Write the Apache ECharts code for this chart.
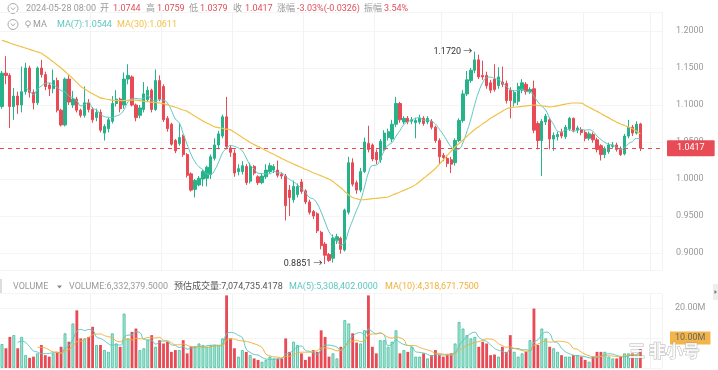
<!DOCTYPE html>
<html><head><meta charset="utf-8">
<script src="https://cdn.jsdelivr.net/npm/echarts@6/dist/echarts.min.js"></script>
<style>html,body{margin:0;padding:0;background:#fff}#c{width:718px;height:370px}</style>
</head><body><div id="c"></div>
<script>
const opens = [
1.098,1.143,1.140,1.098,1.112,1.100,1.118,1.150,1.117,1.103,
1.150,1.141,1.127,1.122,1.133,1.093,1.073,1.135,1.100,1.108,
1.093,1.086,1.103,1.094,1.083,1.090,1.062,1.068,1.078,1.102,
1.108,1.100,1.135,1.138,1.100,1.086,1.094,1.107,1.120,1.094,
1.133,1.125,1.082,1.074,1.052,1.048,1.058,1.033,1.007,0.986,
0.992,1.000,1.001,1.006,1.028,1.046,1.058,1.084,1.042,1.035,
1.010,1.010,1.017,0.997,1.017,1.003,0.995,1.003,1.010,1.012,
1.012,1.006,1.004,0.985,0.972,0.979,0.996,0.984,0.969,0.956,
0.953,0.928,0.912,0.898,0.893,0.917,0.920,0.904,0.955,1.022,
0.995,0.985,1.010,1.048,1.046,1.036,1.026,1.040,1.056,1.054,
1.074,1.102,1.077,1.082,1.078,1.076,1.077,1.082,1.077,1.078,
1.070,1.052,1.032,1.028,1.026,1.022,1.052,1.079,1.115,1.133,
1.147,1.161,1.140,1.140,1.130,1.135,1.126,1.131,1.129,1.120,
1.103,1.105,1.120,1.128,1.118,1.122,1.075,1.052,1.077,1.080,
1.054,1.057,1.063,1.057,1.068,1.082,1.066,1.067,1.063,1.055,
1.060,1.053,1.045,1.033,1.037,1.044,1.046,1.041,1.034,1.058,
1.070,1.062,1.0744];
const closes = [
1.143,1.140,1.098,1.112,1.100,1.118,1.150,1.117,1.103,1.150,
1.141,1.125,1.122,1.133,1.093,1.073,1.135,1.104,1.108,1.093,
1.086,1.103,1.094,1.080,1.090,1.066,1.071,1.080,1.102,1.108,
1.095,1.135,1.140,1.100,1.083,1.096,1.115,1.120,1.094,1.133,
1.108,1.080,1.068,1.047,1.038,1.056,1.033,1.005,0.985,0.998,
1.001,1.010,1.016,1.030,1.046,1.061,1.084,1.044,1.036,1.008,
1.014,1.018,0.995,1.017,1.008,0.995,1.004,1.012,1.018,1.017,
1.005,1.004,0.964,0.975,0.990,0.990,0.983,0.969,0.955,0.950,
0.930,0.910,0.897,0.890,0.920,0.922,0.905,0.958,1.022,0.993,
0.985,1.010,1.050,1.040,1.027,1.026,1.051,1.062,1.064,1.074,
1.102,1.080,1.082,1.077,1.080,1.079,1.082,1.075,1.082,1.070,
1.052,1.030,1.029,1.021,1.020,1.052,1.079,1.115,1.134,1.147,
1.161,1.138,1.138,1.126,1.120,1.121,1.138,1.128,1.106,1.106,
1.117,1.125,1.130,1.118,1.121,1.066,1.052,1.078,1.085,1.054,
1.059,1.060,1.058,1.070,1.082,1.066,1.069,1.063,1.055,1.061,
1.053,1.040,1.033,1.041,1.046,1.046,1.040,1.033,1.058,1.070,
1.062,1.074,1.0417];
const highs = [
1.146,1.166,1.143,1.123,1.118,1.152,1.157,1.153,1.121,1.152,
1.161,1.145,1.130,1.148,1.137,1.095,1.137,1.140,1.119,1.111,
1.095,1.125,1.108,1.097,1.095,1.094,1.074,1.083,1.112,1.120,
1.110,1.144,1.155,1.140,1.102,1.100,1.131,1.125,1.122,1.148,
1.140,1.128,1.085,1.076,1.054,1.075,1.060,1.035,1.009,1.000,
1.004,1.012,1.018,1.033,1.055,1.065,1.087,1.111,1.046,1.040,
1.020,1.024,1.020,1.022,1.019,1.005,1.008,1.020,1.022,1.020,
1.025,1.009,1.007,0.992,0.998,0.994,1.000,0.986,0.972,0.958,
0.955,0.930,0.915,0.900,0.925,0.926,0.922,0.960,1.030,1.028,
0.998,1.015,1.056,1.072,1.048,1.040,1.054,1.066,1.068,1.080,
1.111,1.104,1.085,1.085,1.084,1.083,1.087,1.085,1.085,1.081,
1.072,1.055,1.035,1.032,1.030,1.055,1.082,1.120,1.146,1.150,
1.172,1.168,1.160,1.145,1.134,1.155,1.151,1.152,1.133,1.124,
1.120,1.130,1.135,1.131,1.124,1.133,1.078,1.081,1.088,1.083,
1.063,1.064,1.068,1.073,1.084,1.083,1.072,1.070,1.066,1.064,
1.063,1.056,1.047,1.044,1.049,1.050,1.049,1.044,1.061,1.080,
1.073,1.078,1.0759];
const lows = [
1.095,1.128,1.069,1.080,1.088,1.090,1.114,1.110,1.094,1.100,
1.137,1.120,1.112,1.116,1.090,1.071,1.071,1.100,1.096,1.090,
1.083,1.083,1.090,1.076,1.078,1.063,1.052,1.063,1.075,1.098,
1.090,1.095,1.128,1.098,1.078,1.082,1.090,1.105,1.090,1.092,
1.105,1.077,1.064,1.045,1.035,1.045,1.030,1.002,0.983,0.975,
0.990,0.990,0.990,1.000,1.025,1.040,1.055,1.040,1.030,1.003,
1.005,1.006,0.992,0.994,1.005,0.992,0.993,1.000,1.008,1.008,
1.002,1.000,0.944,0.950,0.968,0.975,0.980,0.966,0.952,0.946,
0.927,0.905,0.8851,0.888,0.887,0.912,0.899,0.902,0.952,0.990,
0.980,0.982,1.008,1.036,1.024,1.020,1.022,1.038,1.052,1.050,
1.070,1.076,1.074,1.074,1.074,1.055,1.074,1.072,1.074,1.067,
1.049,1.020,1.024,1.016,1.008,1.018,1.050,1.076,1.112,1.130,
1.143,1.135,1.134,1.122,1.116,1.118,1.122,1.124,1.102,1.082,
1.098,1.100,1.116,1.114,1.115,1.062,1.040,1.004,1.073,1.040,
1.038,1.052,1.055,1.054,1.065,1.063,1.062,1.059,1.051,1.052,
1.049,1.036,1.025,1.028,1.034,1.041,1.037,1.031,1.032,1.055,
1.058,1.060,1.0379];
// volume in millions
const volumes = [
8.0,
6.6,10.4,11.0,6.6,10.4,4.3,3.4,3.8,4.9,7.7,
4.3,3.8,4.9,5.4,7.1,11.6,8.8,14.9,19.3,9.9,
9.9,10.4,13.8,7.7,7.7,6.0,5.4,11.6,8.2,7.1,
18.2,9.9,12.1,13.2,6.0,6.6,9.3,11.0,7.1,9.3,
8.2,8.8,5.4,6.0,6.0,9.3,4.9,7.1,7.1,8.2,
7.7,7.1,7.7,7.7,7.7,9.9,24.3,9.9,6.6,3.8,
6.0,5.4,4.3,3.2,2.7,2.1,2.7,3.8,3.2,3.2,
3.2,9.9,5.4,8.8,7.7,4.9,2.7,3.8,6.0,5.4,
12.6,10.4,3.8,4.9,3.2,7.1,16.0,14.9,11.6,8.5,
8.2,12.6,24.3,7.1,4.9,9.3,9.3,7.1,8.8,12.6,
4.9,6.0,5.4,7.1,3.8,3.8,4.9,3.2,4.3,6.0,
4.3,3.8,4.3,4.9,8.2,15.4,13.2,11.0,9.9,10.4,
7.1,8.8,8.2,4.3,4.5,3.8,7.1,5.4,11.0,5.4,
3.8,4.9,5.4,9.3,19.9,7.7,13.2,9.9,7.1,6.6,
5.4,4.3,3.8,3.8,4.3,4.3,3.8,2.7,2.1,3.8,
5.4,5.4,5.4,3.8,3.2,3.2,3.8,4.9,4.9,4.9,
4.3,6.33];
// MA(30) line (its history lies left of the view)
const ma30 = [
1.1874,1.1857,1.1838,1.1820,1.1803,1.1785,1.1769,1.1751,1.1735,1.1718,
1.1699,1.1662,1.1624,1.1584,1.1541,1.1499,1.1453,1.1405,1.1357,1.1303,
1.1250,1.1216,1.1182,1.1151,1.1124,1.1097,1.1085,1.1074,1.1066,1.1062,
1.1059,1.1061,1.1064,1.1066,1.1065,1.1058,1.1051,1.1045,1.1039,1.1034,
1.1028,1.1018,1.1001,1.0986,1.0970,1.0951,1.0932,1.0914,1.0882,1.0849,
1.0815,1.0784,1.0757,1.0730,1.0704,1.0695,1.0684,1.0674,1.0664,1.0631,
1.0597,1.0562,1.0528,1.0493,1.0465,1.0438,1.0412,1.0385,1.0358,1.0331,
1.0305,1.0278,1.0251,1.0226,1.0201,1.0178,1.0155,1.0131,1.0108,1.0085,
1.0064,1.0042,1.0020,0.9997,0.9965,0.9923,0.9881,0.9832,0.9784,0.9750,
0.9734,0.9718,0.9722,0.9727,0.9734,0.9739,0.9745,0.9751,0.9757,0.9780,
0.9803,0.9824,0.9847,0.9870,0.9893,0.9924,0.9966,1.0009,1.0051,1.0095,
1.0142,1.0200,1.0259,1.0318,1.0377,1.0432,1.0480,1.0528,1.0576,1.0624,
1.0670,1.0707,1.0745,1.0781,1.0820,1.0853,1.0884,1.0915,1.0946,1.0964,
1.0970,1.0976,1.0982,1.0988,1.0993,1.1000,1.0995,1.0988,1.0982,1.0976,
1.0980,1.0991,1.1001,1.1012,1.1023,1.1027,1.1027,1.1026,1.0997,1.0969,
1.0941,1.0914,1.0884,1.0855,1.0826,1.0796,1.0768,1.0743,1.0723,1.0703,
1.0678,1.0647,1.0611];
const priceTicks = [0.9, 0.95, 1.0, 1.05, 1.1, 1.15, 1.2];
const volumeTicks = [10, 20];
const gridLineIdx = [23, 41, 59, 77, 95, 112, 130, 148, 165];

const N = closes.length, PAD = 5;
const categories = [];
const t0 = Date.UTC(2024, 4, 28, 0) - (N - 1) * 4 * 3600e3;
for (let i = 0; i < N + PAD; i++) categories.push(new Date(t0 + i * 4 * 3600e3).toISOString().slice(0, 16).replace('T', ' '));

const UP = '#26b38a', DOWN = '#e84b55', TEAL = '#5cc7bf', YEL = '#f0c24a', ORG = '#f0b03a';
const FONT = 'Roboto, "Noto Sans CJK SC", sans-serif';

function movingAvg(arr, n) {
  return arr.map((v, i) => {
    if (i < n - 1) return '-';
    let s = 0; for (let k = i - n + 1; k <= i; k++) s += arr[k];
    return +(s / n).toFixed(5);
  });
}
const pad = a => a.concat(Array(PAD).fill('-'));
const candleData = pad(opens.map((o, i) => [o, closes[i], lows[i], highs[i]]));
const ma7 = pad(movingAvg(closes, 7));
const volData = pad(volumes.map((v, i) => ({
  value: v,
  itemStyle: closes[i] >= opens[i] ? {color: '#aee6d8', borderColor: '#3dbd9a', borderWidth: 0.8} : {color: DOWN}
})));
const volMa5 = pad(movingAvg(volumes, 5));
const volMa10 = pad(movingAvg(volumes, 10));

let hiIdx = 0, loIdx = 0;
highs.forEach((h, i) => { if (h > highs[hiIdx]) hiIdx = i; });
lows.forEach((l, i) => { if (l < lows[loIdx]) loIdx = i; });

function txt(x, y, s, color, size) {
  return {type: 'text', x: x, y: y, silent: true, z: 100,
    style: {text: s, x: 0, y: 0, fill: color, font: (size || 9) + 'px ' + FONT,
      textVerticalAlign: 'middle', verticalAlign: 'middle'}};
}
function circIcon(cy) {
  return [
    {type: 'circle', shape: {cx: 13, cy: cy, r: 5}, style: {fill: 'none', stroke: '#aaa', lineWidth: 1}, silent: true},
    {type: 'polyline', shape: {points: [[10.8, cy - 1], [13, cy + 1.3], [15.2, cy - 1]]}, style: {fill: 'none', stroke: '#aaa', lineWidth: 1}, silent: true}
  ];
}
const GRAY = '#9a9a9a', RED = '#e0505a';
const graphics = [].concat(
  circIcon(8.5), circIcon(24.5),
  [
    txt(26, 8.5, '2024-05-28 08:00', GRAY),
    txt(100, 8.5, '开', GRAY), txt(113, 8.5, '1.0744', RED),
    txt(146, 8.5, '高', GRAY), txt(157, 8.5, '1.0759', RED),
    txt(189, 8.5, '低', GRAY), txt(200, 8.5, '1.0379', RED),
    txt(233, 8.5, '收', GRAY), txt(245, 8.5, '1.0417', RED),
    txt(277, 8.5, '涨幅', GRAY), txt(297, 8.5, '-3.03%(-0.0326)', RED),
    txt(364, 8.5, '振幅', GRAY), txt(384, 8.5, '3.54%', RED),
    {type: 'circle', shape: {cx: 28, cy: 23.3, r: 2.4}, style: {fill: 'none', stroke: '#aaa', lineWidth: 1}, silent: true},
    {type: 'line', shape: {x1: 28, y1: 25.7, x2: 28, y2: 28}, style: {stroke: '#aaa', lineWidth: 1}, silent: true},
    txt(33, 24.5, 'MA', GRAY),
    txt(57, 24.5, 'MA(7):1.0544', TEAL),
    txt(117, 24.5, 'MA(30):1.0611', YEL),
    txt(13, 287, 'VOLUME', GRAY),
    {type: 'polygon', shape: {points: [[57, 285.5], [62, 285.5], [59.5, 288.5]]}, style: {fill: '#888'}, silent: true},
    txt(69, 287, 'VOLUME:6,332,379.5000', GRAY),
    txt(174, 287, '预估成交量:7,074,735.4178', '#555'),
    txt(289, 287, 'MA(5):5,308,402.0000', TEAL),
    txt(385, 287, 'MA(10):4,318,671.7500', ORG),
    {type: 'rect', shape: {x: 0, y: 279, width: 2, height: 14}, style: {fill: '#ddd'}, silent: true},
    {type: 'rect', shape: {x: 713, y: 284, width: 5, height: 16}, style: {fill: '#eee'}, silent: true},
    {type: 'polygon', shape: {points: [[714.5, 290], [717, 292], [714.5, 294]]}, style: {fill: '#777'}, silent: true},
    {type: 'text', x: 628, y: 351, silent: true, z: 120,
      style: {text: '三 非小号', x: 0, y: 0, fill: 'rgba(255,255,255,0.85)', stroke: 'rgba(150,150,150,0.7)', lineWidth: 1,
        font: 'bold 17px "Noto Sans CJK SC", sans-serif', textVerticalAlign: 'middle', verticalAlign: 'middle'}}
  ]
);

const splitX = {show: true, interval: (idx) => gridLineIdx.indexOf(idx) >= 0, lineStyle: {color: '#f2f2f2', width: 1}};
const chart = echarts.init(document.getElementById('c'), null, {renderer: 'canvas'});
chart.setOption({
  animation: false,
  backgroundColor: '#fff',
  textStyle: {fontFamily: FONT},
  grid: [
    {left: 0, top: 12, width: 662, height: 258},
    {left: 0, top: 293.6, width: 662, height: 74.4}
  ],
  xAxis: [
    {type: 'category', gridIndex: 0, data: categories, boundaryGap: true,
      axisLine: {show: false}, axisTick: {show: false}, axisLabel: {show: false}, splitLine: splitX},
    {type: 'category', gridIndex: 1, data: categories, boundaryGap: true,
      axisLine: {show: false}, axisTick: {show: false}, axisLabel: {show: false}, splitLine: splitX}
  ],
  yAxis: [
    {type: 'value', gridIndex: 0, position: 'right', min: 0.87703, max: 1.22568, splitNumber: 5,
      axisLine: {show: false}, axisTick: {show: false},
      axisLabel: {margin: 14, color: '#999', fontSize: 9, fontFamily: FONT, showMinLabel: false, showMaxLabel: false,
        formatter: v => priceTicks.some(t => Math.abs(t - v) < 1e-7) ? v.toFixed(4) : ''},
      splitLine: {lineStyle: {color: '#f5f5f5'}}},
    {type: 'value', gridIndex: 1, position: 'right', min: 0, max: 24.9, interval: 10,
      axisLine: {show: false}, axisTick: {show: false},
      axisLabel: {margin: 8, color: '#999', fontSize: 9, fontFamily: FONT, showMinLabel: false, showMaxLabel: false,
        formatter: v => volumeTicks.indexOf(v) < 0 ? '' : (v === 10 ? '{o|' + v.toFixed(2) + 'M}' : '{n|' + v.toFixed(2) + 'M}'),
        rich: {o: {backgroundColor: '#f3b54a', color: '#666', fontSize: 9, padding: [2, 5, 2, 5]},
               n: {color: '#999', fontSize: 9, padding: [0, 5, 0, 5]}}},
      splitLine: {lineStyle: {color: '#f5f5f5'}}}
  ],
  series: [
    {type: 'candlestick', name: 'K', xAxisIndex: 0, yAxisIndex: 0, data: candleData, barWidth: '70%',
      itemStyle: {color: UP, color0: DOWN, borderColor: UP, borderColor0: DOWN, borderWidth: 1},
      markLine: {silent: true, symbol: ['none', 'none'], animation: false, precision: 4,
        lineStyle: {color: DOWN, type: [4, 4], width: 1},
        label: {show: true, position: 'end', distance: 5, formatter: p => Number(p.value).toFixed(4), color: '#fff',
          backgroundColor: DOWN, padding: [4, 10, 3, 10], fontSize: 9, fontFamily: FONT, borderRadius: 1},
        data: [{yAxis: closes[N - 1]}]},
      markPoint: {silent: true, symbol: 'circle', symbolSize: 1, itemStyle: {color: 'rgba(0,0,0,0)'},
        label: {show: true, position: 'left', distance: 2, color: '#333', fontSize: 9, fontFamily: FONT,
          formatter: p => Number(p.value).toFixed(4) + ' \u2192'},
        data: [{coord: [hiIdx, highs[hiIdx]], value: highs[hiIdx]}, {coord: [loIdx, lows[loIdx]], value: lows[loIdx]}]}
    },
    {type: 'line', name: 'MA7', xAxisIndex: 0, yAxisIndex: 0, data: ma7, smooth: true, symbol: 'none',
      lineStyle: {color: TEAL, width: 1}, z: 3},
    {type: 'line', name: 'MA30', xAxisIndex: 0, yAxisIndex: 0, data: pad(ma30), smooth: true, symbol: 'none',
      lineStyle: {color: YEL, width: 1.2}, z: 3},
    {type: 'bar', name: 'VOL', xAxisIndex: 1, yAxisIndex: 1, data: volData, barWidth: '72%'},
    {type: 'line', name: 'VMA5', xAxisIndex: 1, yAxisIndex: 1, data: volMa5, smooth: true, symbol: 'none',
      lineStyle: {color: TEAL, width: 1}, z: 3},
    {type: 'line', name: 'VMA10', xAxisIndex: 1, yAxisIndex: 1, data: volMa10, smooth: true, symbol: 'none',
      lineStyle: {color: ORG, width: 1}, z: 3}
  ],
  graphic: graphics
});
</script></body></html>
